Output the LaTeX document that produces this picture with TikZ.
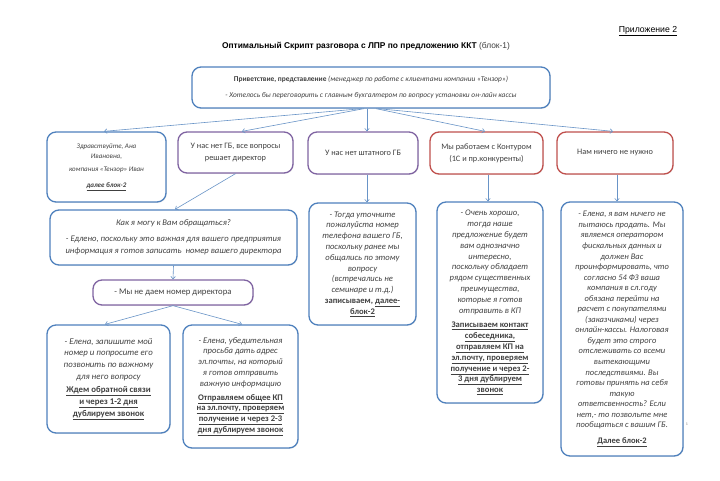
\documentclass[tikz,border=0pt]{standalone}
\usepackage{fontspec}
\setmainfont{Carlito}
\newfontfamily\arialf{Liberation Sans}
\usetikzlibrary{arrows.meta,shadows}
\definecolor{bluB}{HTML}{4F81BD}
\definecolor{purB}{HTML}{8064A2}
\definecolor{redB}{HTML}{C0504D}
\definecolor{txt}{HTML}{404040}
\newcommand{\uu}[1]{\underline{#1}}
\newcommand{\bu}[1]{{\upshape\bfseries\underline{#1}}}
\newcommand{\bup}[1]{{\upshape\bfseries #1}}
\begin{document}
\begin{tikzpicture}[x=1pt,y=-1pt,
  box/.style={draw, line width=1.3pt, rounded corners=9pt, fill=white, align=center,
    inner sep=0pt, text=txt, font=\fontsize{8.3}{12}\selectfont,
    drop shadow={shadow xshift=0.7pt, shadow yshift=-0.7pt, opacity=0.25}},
  ibox/.style={box, font=\fontsize{8.6}{10.8}\selectfont\itshape},
  bb/.style={draw=bluB}, pb/.style={draw=purB}, rb/.style={draw=redB},
  conn/.style={draw=bluB!85, line width=0.6pt, -{Straight Barb[length=2.5pt,width=4.5pt]}}]
\useasboundingbox (0,0) rectangle (720,480);
\fill[white] (0,0) rectangle (720,480);

\node[text=black] (appx) at (648,31) {\arialf\fontsize{8.7}{10}\selectfont\uu{Приложение 2}};
\node[text=black] (title) at (366,46) {\arialf\fontsize{8.4}{10}\selectfont\textbf{Оптимальный Скрипт разговора с ЛПР по предложению ККТ} \textcolor{txt}{(блок-1)}};

\node[box, bb, minimum width=358pt, minimum height=41pt, font=\fontsize{7.4}{9}\selectfont] (hdr) at (371,87.5)
  {\textbf{Приветствие, представление} \textit{(менеджер по работе с клиентами компании «Тензор»)}\\[6.5pt]
   \textit{- Хотелось бы переговорить с главным бухгалтером по вопросу установки он-лайн кассы}};

\node[ibox, bb, minimum width=119pt, minimum height=70pt, font=\fontsize{7}{10}\selectfont\itshape] (b1) at (106.5,167)
  {Здравствуйте, Ана\\ Ивановна,\\[3pt] компания «Тензор» Иван\\[6pt] \textbf{\uu{далее блок-2}}};
\node[box, pb, minimum width=115pt, minimum height=41pt] (b2) at (235.5,152.5)
  {У нас нет ГБ, все вопросы\\ решает директор};
\node[box, pb, minimum width=110pt, minimum height=42pt] (b3) at (363,153)
  {У нас нет штатного ГБ};
\node[box, rb, minimum width=113pt, minimum height=42pt] (b4) at (486.5,153)
  {Мы работаем с Контуром\\ (1С и пр.конкуренты)};
\node[box, rb, minimum width=116pt, minimum height=42pt] (b5) at (615,153)
  {Нам ничего не нужно};

\node[ibox, bb, minimum width=247pt, minimum height=55pt, font=\fontsize{8.6}{12}\selectfont\itshape] (kak) at (173.5,237.5)
  {Как я могу к Вам обращаться?\\[4pt]
   - Едлено, поскольку это важная для вашего предприятия\\
   информация я готов записать \ номер вашего директора};
\node[box, pb, minimum width=160pt, minimum height=25pt, font=\fontsize{8.7}{10}\selectfont] (mn) at (173,292.5)
  {- Мы не даем номер директора};

\node[ibox, bb, minimum width=123pt, minimum height=108pt, font=\fontsize{8.8}{11.8}\selectfont\itshape] (bl) at (108.5,379)
  {- Елена, запишите мой\\ номер и попросите его\\ позвонить по важному\\ для него вопросу\\[1.5pt]
   \bu{Ждем обратной связи}\\ \bu{и через 1-2 дня}\\ \bu{дублируем звонок}};
\node[ibox, bb, minimum width=115pt, minimum height=123pt] (br) at (240.5,386.5)
  {- Елена, убедительная\\ просьба дать адрес\\ эл.почты, на который\\ я готов отправить\\ важную информацию\\[3pt]
   \bu{Отправляем общее КП}\\ \bu{на эл.почту, проверяем}\\ \bu{получение и через 2-3}\\ \bu{дня дублируем звонок}};

\node[ibox, bb, minimum width=107pt, minimum height=122pt] (c3) at (362.5,264)
  {- Тогда уточните\\ пожалуйста номер\\ телефона вашего ГБ,\\ поскольку ранее мы\\ общались по этому\\ вопросу\\ (встречались не\\ семинаре и т.д.)\\
   \bup{записываем,} \bu{далее-}\\ \bu{блок-2}};
\node[ibox, bb, minimum width=106pt, minimum height=201pt] (c4) at (490,302.5)
  {- Очень хорошо,\\ тогда наше\\ предложение будет\\ вам однозначно\\ интересно,\\ поскольку обладает\\ рядом существенных\\ преимущества,\\ которые я готов\\ отправить в КП\\[4pt]
   \bu{Записываем контакт}\\ \bu{собеседника,}\\ \bu{отправляем КП на}\\ \bu{эл.почту, проверяем}\\ \bu{получение и через 2-}\\ \bu{3 дня дублируем}\\ \bu{звонок}};
\node[ibox, bb, minimum width=122pt, minimum height=254pt, font=\fontsize{8.5}{10.55}\selectfont\itshape] (c5) at (622,329)
  {- Елена, я вам ничего не\\ пытаюсь продать. Мы\\ являемся оператором\\ фискальных данных и\\ должен Вас\\ проинформировать, что\\ согласно 54 ФЗ ваша\\ компания в сл.году\\ обязана перейти на\\ расчет с покупателями\\ (заказчиками) через\\ онлайн-кассы. Налоговая\\ будет это строго\\ отслеживать со всеми\\ вытекающими\\ последствиями. Вы\\ готовы принять на себя\\ такую\\ ответсвенность? Если\\ нет,- то позвольте мне\\ пообщаться с вашим ГБ.\\[5pt]
   \bu{Далее блок-2}};

\node[text=gray, font=\fontsize{4}{5}\selectfont] (pg) at (687,424) {1};

\draw[conn] ([xshift=-9pt]hdr.south) -- ([xshift=-2.5pt]b1.north);
\draw[conn] ([xshift=-7pt]hdr.south) -- ([xshift=6.5pt]b2.north);
\draw[conn] ([xshift=-4pt]hdr.south) -- ([xshift=4pt]b3.north);
\draw[conn] ([xshift=5pt]hdr.south) -- ([xshift=-1.5pt]b4.north);
\draw[conn] ([xshift=7pt]hdr.south) -- ([xshift=-2pt]b5.north);
\draw[conn] (b2.south) -- ([xshift=1.5pt]kak.north);
\draw[conn] (kak.south) -- (mn.north);
\draw[conn] (mn.south) -- ([xshift=-3.5pt]bl.north);
\draw[conn] (mn.south) -- ([xshift=1.5pt]br.north);
\draw[conn] ([xshift=4pt]b3.south) -- ([xshift=4.5pt]c3.north);
\draw[conn] ([xshift=1.5pt]b4.south) -- ([xshift=-2pt]c4.north);
\draw[conn] ([xshift=2pt]b5.south) -- ([xshift=-5pt]c5.north);
\end{tikzpicture}
\end{document}
